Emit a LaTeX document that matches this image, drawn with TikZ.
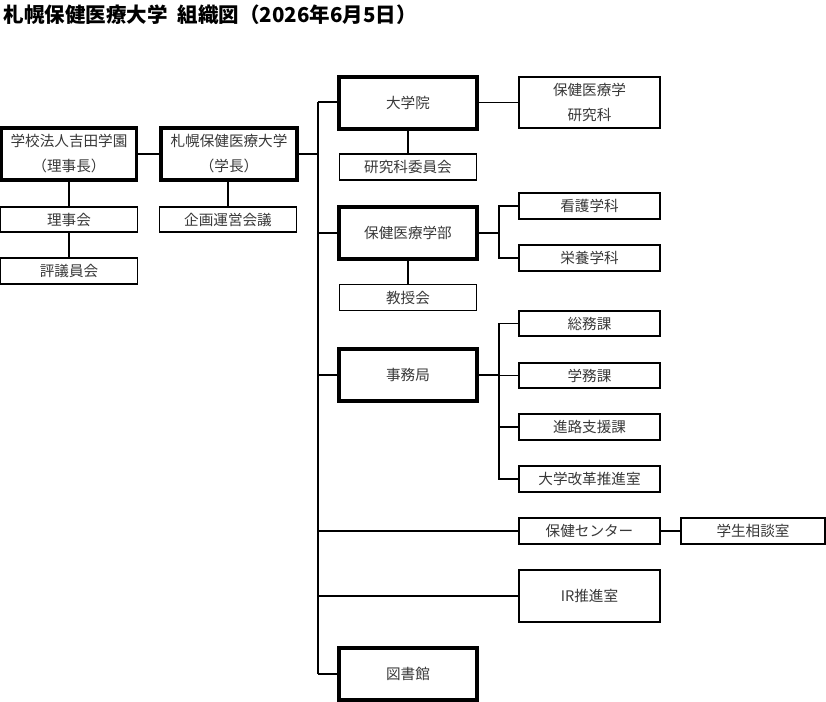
\documentclass[tikz,border=0pt]{standalone}
\usepackage{fontspec}
\setmainfont{Noto Sans CJK JP}
\newfontfamily\jpfont{Noto Sans CJK JP}
\begin{document}
\begin{tikzpicture}[x=1pt,y=-1pt,
  box/.style={draw=black,line width=1.1pt,rectangle,inner sep=0pt,align=center,
    text=black!78,font=\jpfont\fontsize{14.6}{25}\selectfont},
  thick box/.style={box,line width=3.3pt},
  conn/.style={draw=black,line width=1.1pt}]
\useasboundingbox (0,0) rectangle (826,701);
\node[anchor=west,font=\jpfont\fontsize{20.5}{24}\selectfont\bfseries] (title) at (0,15) {札幌保健医療大学\hspace{0.5em}組織図（2026年6月5日）};
% left side
\node[thick box,minimum width=135pt,minimum height=52pt] (hojin) at (69,154) {学校法人吉田学園\\（理事長）};
\node[thick box,minimum width=136pt,minimum height=52pt] (univ) at (229,154) {札幌保健医療大学\\（学長）};
\node[box,minimum width=137pt,minimum height=25pt] (rijikai) at (69,219.5) {理事会};
\node[box,minimum width=137pt,minimum height=26pt] (hyogi) at (69,271) {評議員会};
\node[box,minimum width=137pt,minimum height=25pt] (kikaku) at (228,219.5) {企画運営会議};
% main column
\node[thick box,minimum width=138pt,minimum height=52pt] (daigakuin) at (408,103) {大学院};
\node[box,minimum width=141pt,minimum height=51pt] (kenkyuka) at (589.5,102.5) {保健医療学\\研究科};
\node[box,minimum width=137pt,minimum height=26pt] (iinkai) at (408,167) {研究科委員会};
\node[thick box,minimum width=138pt,minimum height=52pt] (gakubu) at (408,233) {保健医療学部};
\node[box,minimum width=141pt,minimum height=26pt] (kango) at (589.5,206) {看護学科};
\node[box,minimum width=141pt,minimum height=26pt] (eiyo) at (589.5,258) {栄養学科};
\node[box,minimum width=137pt,minimum height=26pt] (kyoju) at (408,297.5) {教授会};
\node[thick box,minimum width=138pt,minimum height=52pt] (jimu) at (408,375) {事務局};
\node[box,minimum width=141pt,minimum height=25pt] (somu) at (589.5,323.5) {総務課};
\node[box,minimum width=141pt,minimum height=25pt] (gakumu) at (589.5,375.5) {学務課};
\node[box,minimum width=141pt,minimum height=26pt] (shinro) at (589.5,427) {進路支援課};
\node[box,minimum width=141pt,minimum height=26pt] (kaikaku) at (589.5,479) {大学改革推進室};
\node[box,minimum width=141pt,minimum height=26pt] (hoken) at (589.5,531) {保健センター};
\node[box,minimum width=144pt,minimum height=26pt] (sodan) at (753,531) {学生相談室};
\node[box,minimum width=141pt,minimum height=52pt] (ir) at (589.5,596) {IR推進室};
\node[thick box,minimum width=138pt,minimum height=52pt] (tosho) at (408,674) {図書館};
% trunk coordinates
\coordinate (ttop) at (318,102);
\coordinate (tbot) at (318,674);
\coordinate (b1) at (499,206);
\coordinate (b2) at (499,258);
\coordinate (b3) at (499,323.5);
\coordinate (b4) at (499,479);
% connectors left
\draw[conn] (hojin.east) -- (hojin.east -| univ.west);
\draw[conn] (hojin.south) -- (rijikai.north);
\draw[conn] (rijikai.south) -- (hyogi.north);
\draw[conn] (univ.south -| kikaku.north) -- (kikaku.north);
\draw[conn] (univ.east) -- (univ.east -| ttop);
% trunk
\draw[conn] (ttop) -- (tbot);
\draw[conn] (ttop) -- (ttop -| daigakuin.west);
\draw[conn] (daigakuin.east |- kenkyuka.west) -- (kenkyuka.west);
\draw[conn] (daigakuin.south) -- (iinkai.north);
\draw[conn] (ttop |- gakubu.west) -- (gakubu.west);
\draw[conn] (gakubu.east) -- (gakubu.east -| b1);
\draw[conn] (kango.west) -- (b1) -- (b2) -- (eiyo.west);
\draw[conn] (gakubu.south) -- (kyoju.north);
\draw[conn] (ttop |- jimu.west) -- (jimu.west);
\draw[conn] (jimu.east) -- (jimu.east -| b3);
\draw[conn] (somu.west) -- (b3) -- (b4) -- (kaikaku.west);
\draw[conn] (b3 |- gakumu.west) -- (gakumu.west);
\draw[conn] (b3 |- shinro.west) -- (shinro.west);
\draw[conn] (ttop |- hoken.west) -- (hoken.west);
\draw[conn] (hoken.east) -- (sodan.west);
\draw[conn] (ttop |- ir.west) -- (ir.west);
\draw[conn] (tbot) -- (tosho.west);
\end{tikzpicture}
\end{document}
